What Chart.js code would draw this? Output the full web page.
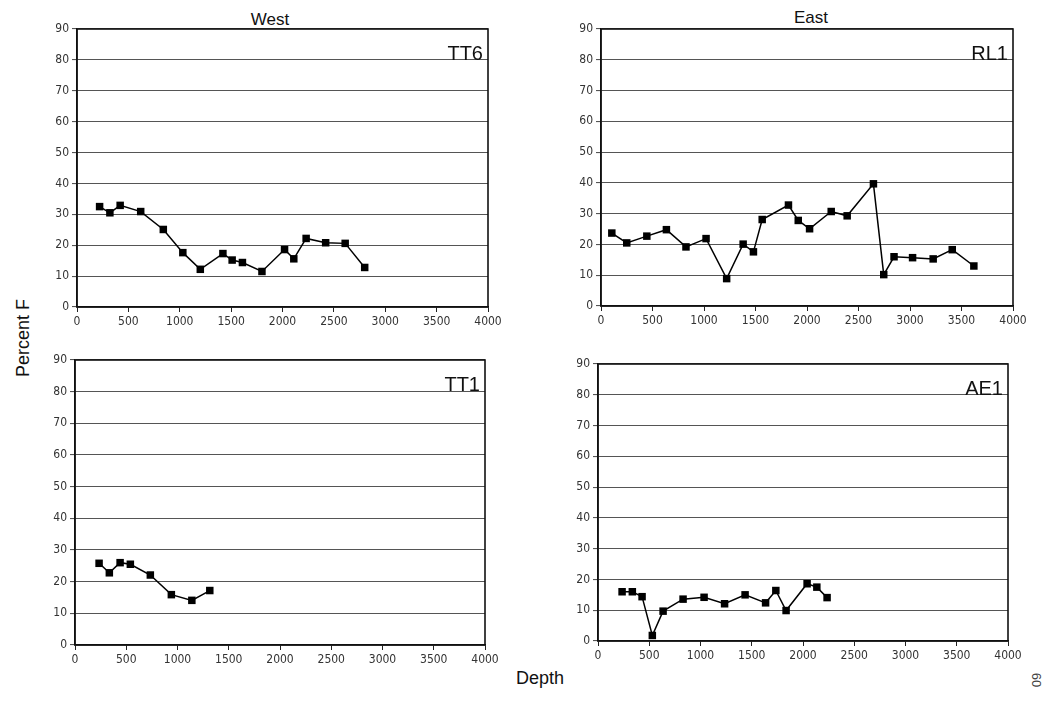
<!DOCTYPE html>
<html>
<head>
<meta charset="utf-8">
<script src="https://cdn.jsdelivr.net/npm/chart.js@4.4.1/dist/chart.umd.min.js"></script>
<style>
body { margin: 0; background: #fff; width: 1047px; height: 712px; position: relative; overflow: hidden;
       font-family: "Liberation Sans", Arial, sans-serif; color: #111; }
.panel { position: absolute; }
.lbl { position: absolute; white-space: nowrap; line-height: 1; }
</style>
</head>
<body>
<div class="lbl" style="left:270px;top:11px;font-size:17px;transform:translateX(-50%)">West</div>
<div class="lbl" style="left:811px;top:9px;font-size:17px;transform:translateX(-50%)">East</div>
<div class="lbl" style="left:23px;top:338px;font-size:18px;transform:translate(-50%,-50%) rotate(-90deg)">Percent F</div>
<div class="lbl" style="left:540px;top:669px;font-size:18px;transform:translateX(-50%)">Depth</div>
<div class="lbl" style="left:1036px;top:680px;font-size:13px;color:#444;transform:translate(-50%,-50%) rotate(90deg)">60</div>

<script>
// values (depth, percent F)
const tt6Depth = [220, 320, 420, 620, 840, 1030, 1200, 1420, 1510, 1610, 1800, 2020, 2110, 2230, 2420, 2610, 2800];
const tt6Pct   = [32.5, 30.5, 32.9, 30.9, 25.1, 17.6, 12.2, 17.3, 15.2, 14.4, 11.5, 18.6, 15.6, 22.2, 20.8, 20.6, 12.8];

const rl1Depth = [105, 250, 445, 635, 825, 1020, 1220, 1380, 1480, 1565, 1820, 1915, 2025, 2235, 2390, 2645, 2745, 2845, 3025, 3225, 3410, 3620];
const rl1Pct   = [23.7, 20.5, 22.7, 24.8, 19.2, 21.9, 8.9, 20.1, 17.6, 28.1, 32.8, 27.8, 25.1, 30.7, 29.3, 39.7, 10.2, 16.0, 15.7, 15.3, 18.3, 13.0];

const tt1Depth = [235, 335, 440, 540, 735, 940, 1140, 1315];
const tt1Pct   = [25.8, 22.8, 26.0, 25.5, 22.1, 15.9, 14.1, 17.2];

const ae1Depth = [235, 335, 430, 530, 635, 830, 1035, 1235, 1435, 1635, 1735, 1835, 2040, 2135, 2235];
const ae1Pct   = [16.0, 16.0, 14.4, 1.8, 9.7, 13.6, 14.2, 12.1, 15.0, 12.4, 16.4, 9.9, 18.6, 17.5, 14.1];

const depthMax = 4000, depthStep = 500;
const pctMax = 90, pctStep = 10;

// plot rectangles on the page: [left, top, right, bottom]
const panels = [
    { name: 'TT6', depth: tt6Depth, pct: tt6Pct, box: [77, 29, 488, 307] },
    { name: 'RL1', depth: rl1Depth, pct: rl1Pct, box: [601, 29, 1013, 306] },
    { name: 'TT1', depth: tt1Depth, pct: tt1Pct, box: [75, 360, 485, 645] },
    { name: 'AE1', depth: ae1Depth, pct: ae1Pct, box: [598, 364, 1008, 641] }
];

const AX_W = 40, AX_H = 30, PAD_T = 12, PAD_R = 22;
const tickFont = { family: '"Liberation Sans Narrow", "DejaVu Sans Condensed", Arial, sans-serif', size: 12 };

// frame round the plot area
const frame = {
    id: 'frame',
    afterDraw(chart) {
        const { ctx, chartArea: a } = chart;
        ctx.save();
        ctx.strokeStyle = '#111';
        ctx.lineWidth = 1.6;
        ctx.strokeRect(a.left, a.top, a.right - a.left, a.bottom - a.top);
        ctx.restore();
    }
};

panels.forEach(p => {
    const [l, t, r, b] = p.box;
    const w = r - l + AX_W + PAD_R;
    const h = b - t + PAD_T + AX_H;

    const div = document.createElement('div');
    div.className = 'panel';
    div.style.left = (l - AX_W) + 'px';
    div.style.top = (t - PAD_T) + 'px';
    const canvas = document.createElement('canvas');
    canvas.width = w;
    canvas.height = h;
    div.appendChild(canvas);
    document.body.appendChild(div);

    const name = document.createElement('div');
    name.className = 'lbl';
    name.textContent = p.name;
    name.style.fontSize = '20px';
    name.style.right = (1047 - r + 5) + 'px';
    name.style.top = (t + 14) + 'px';
    document.body.appendChild(name);

    new Chart(canvas, {
        type: 'line',
        data: {
            datasets: [{
                data: p.depth.map((d, i) => ({ x: d, y: p.pct[i] })),
                borderColor: '#000',
                borderWidth: 1.5,
                backgroundColor: '#000',
                pointStyle: 'rect',
                pointRadius: 5.3,
                pointBorderWidth: 0,
                tension: 0
            }]
        },
        options: {
            responsive: false,
            animation: false,
            devicePixelRatio: 1,
            layout: { padding: { top: PAD_T, right: PAD_R, left: 0, bottom: 0 } },
            plugins: { legend: { display: false }, tooltip: { enabled: false } },
            scales: {
                x: {
                    type: 'linear', min: 0, max: depthMax,
                    afterFit: s => { s.height = AX_H; },
                    ticks: { stepSize: depthStep, color: '#333', font: tickFont, padding: 3, maxRotation: 0,
                             callback: v => String(v) },
                    grid: { drawOnChartArea: false, tickLength: 5, color: '#222' },
                    border: { color: '#111', width: 1.5 }
                },
                y: {
                    min: 0, max: pctMax,
                    afterFit: s => { s.width = AX_W; },
                    ticks: { stepSize: pctStep, color: '#333', font: tickFont, padding: 3,
                             callback: v => String(v) },
                    grid: { color: '#555', lineWidth: 1.1, tickLength: 5 },
                    border: { color: '#111', width: 1.5 }
                }
            }
        },
        plugins: [frame]
    });
});
</script>
</body>
</html>
